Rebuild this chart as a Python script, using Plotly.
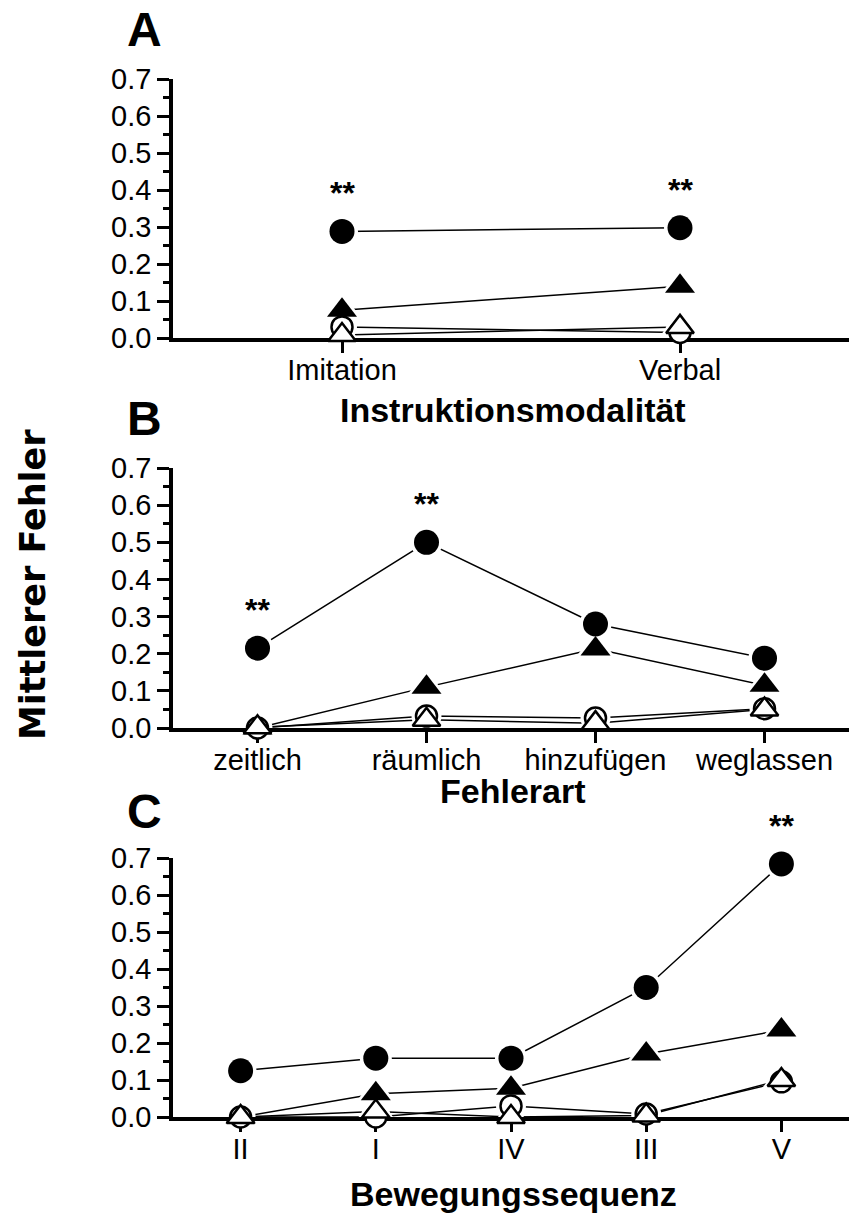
import plotly.graph_objects as go

W, H = 849, 1214

# ---------------- data ----------------
cat_A = ["Imitation", "Verbal"]
cat_B = ["zeitlich", "räumlich", "hinzufügen", "weglassen"]
cat_C = ["II", "I", "IV", "III", "V"]

A_filled_circle = [0.288, 0.298]
A_filled_tri = [0.075, 0.14]
A_open_circle = [0.03, 0.015]
A_open_tri = [0.008, 0.03]

B_filled_circle = [0.215, 0.50, 0.28, 0.188]
B_filled_tri = [0.0, 0.11, 0.213, 0.115]
B_open_circle = [0.0, 0.032, 0.027, 0.052]
B_open_tri = [0.002, 0.022, 0.013, 0.05]

C_filled_circle = [0.125, 0.159, 0.159, 0.35, 0.684]
C_filled_tri = [0.0, 0.063, 0.078, 0.17, 0.235]
C_open_circle = [0.0, 0.0, 0.03, 0.008, 0.095]
C_open_tri = [0.0, 0.015, 0.0, 0.004, 0.1]

sig_A = ["**", "**"]
sig_B = ["**", "**", "", ""]
sig_C = ["", "", "", "", "**"]

y_tick_labels = ["0.0", "0.1", "0.2", "0.3", "0.4", "0.5", "0.6", "0.7"]

panel_letters = ["A", "B", "C"]
x_titles = ["Instruktionsmodalität", "Fehlerart", "Bewegungssequenz"]
y_title = "Mittlerer Fehler"

# ---------------- layout helpers ----------------
def py(p):
    return (H - p) / H

FONT = "Liberation Sans, Arial, sans-serif"
x_dom = [173 / W, 1.0]
y_doms = [[py(338), py(79)], [py(728), py(468)], [py(1117), py(858)]]

panels = [
    (cat_A, [A_filled_circle, A_filled_tri, A_open_circle, A_open_tri], sig_A),
    (cat_B, [B_filled_circle, B_filled_tri, B_open_circle, B_open_tri], sig_B),
    (cat_C, [C_filled_circle, C_filled_tri, C_open_circle, C_open_tri], sig_C),
]

styles = [
    dict(symbol="circle", size=25, color="black", line=dict(width=0, color="black")),
    dict(symbol="triangle-up", size=26, color="black", line=dict(width=0, color="black")),
    dict(symbol="circle", size=21, color="white", line=dict(width=2.5, color="black")),
    dict(symbol="triangle-up", size=24, color="white", line=dict(width=2.5, color="black")),
]
halo_extra = [7, 9, 9, 10]

fig = go.Figure()
annotations = []

for i, (cats, series, sig) in enumerate(panels):
    xa = "x" if i == 0 else f"x{i+1}"
    ya = "y" if i == 0 else f"y{i+1}"
    # lines
    for s in series:
        fig.add_trace(go.Scatter(x=cats, y=s, xaxis=xa, yaxis=ya, mode="lines",
                                 line=dict(color="black", width=1.5),
                                 cliponaxis=False, showlegend=False, hoverinfo="skip"))
    # white halos (gaps between lines and markers)
    for s, st, ex in zip(series, styles, halo_extra):
        fig.add_trace(go.Scatter(x=cats, y=s, xaxis=xa, yaxis=ya, mode="markers",
                                 marker=dict(symbol=st["symbol"], size=st["size"] + ex,
                                             color="white", line=dict(width=0)),
                                 cliponaxis=True, showlegend=False, hoverinfo="skip"))
    # markers
    for s, st in zip(series, styles):
        fig.add_trace(go.Scatter(x=cats, y=s, xaxis=xa, yaxis=ya, mode="markers",
                                 marker=st, cliponaxis=False, showlegend=False))
    # significance stars above filled circles
    for c, v, t in zip(cats, series[0], sig):
        if t:
            annotations.append(dict(x=c, y=v, xref=xa, yref=ya, text=t, showarrow=False,
                                    yshift=38, yanchor="middle",
                                    font=dict(family=FONT, size=32, color="black", weight="bold")))

    axis_common = dict(showline=True, linecolor="black", linewidth=3.5, showgrid=False,
                       zeroline=False, ticks="outside", tickcolor="black", tickwidth=3,
                       layer="below traces", automargin=False,
                       tickfont=dict(family=FONT, size=29, color="black"))
    fig.layout[("xaxis" if i == 0 else f"xaxis{i+1}")] = dict(
        axis_common, domain=x_dom, anchor=ya, type="category",
        range=[-0.5, len(cats) - 0.5], ticklen=11, ticklabelstandoff=-8)
    fig.layout[("yaxis" if i == 0 else f"yaxis{i+1}")] = dict(
        axis_common, domain=y_doms[i], anchor=xa, range=[0, 0.7],
        tickmode="array", tickvals=[float(t) for t in y_tick_labels], ticktext=y_tick_labels,
        ticklen=12,
        minor=dict(dtick=0.05, tick0=0, ticks="outside", ticklen=6, tickwidth=3,
                   tickcolor="black", showgrid=False))

# panel letters
for letter, p in zip(panel_letters, [29.5, 418, 811]):
    annotations.append(dict(x=144 / W, y=py(p), xref="paper", yref="paper", text=letter,
                            showarrow=False, xanchor="center", yanchor="middle",
                            font=dict(family=FONT, size=48, color="black", weight="bold")))
# x titles
for t, p in zip(x_titles, [410, 791, 1194]):
    annotations.append(dict(x=513 / W, y=py(p), xref="paper", yref="paper", text=t,
                            showarrow=False, xanchor="center", yanchor="middle",
                            font=dict(family=FONT, size=34, color="black", weight="bold")))
# y title
annotations.append(dict(x=33 / W, y=py(585), xref="paper", yref="paper", text=y_title,
                        showarrow=False, xanchor="center", yanchor="middle", textangle=-90,
                        font=dict(family="DejaVu Sans, sans-serif", size=35, color="black",
                                  weight="bold")))

fig.update_layout(width=W, height=H, margin=dict(l=0, r=0, t=0, b=0, autoexpand=False),
                  paper_bgcolor="white", plot_bgcolor="white",
                  annotations=annotations, showlegend=False)

fig.write_html("out.html", config={"displayModeBar": False},
               post_script="document.body.style.margin='0px';")
